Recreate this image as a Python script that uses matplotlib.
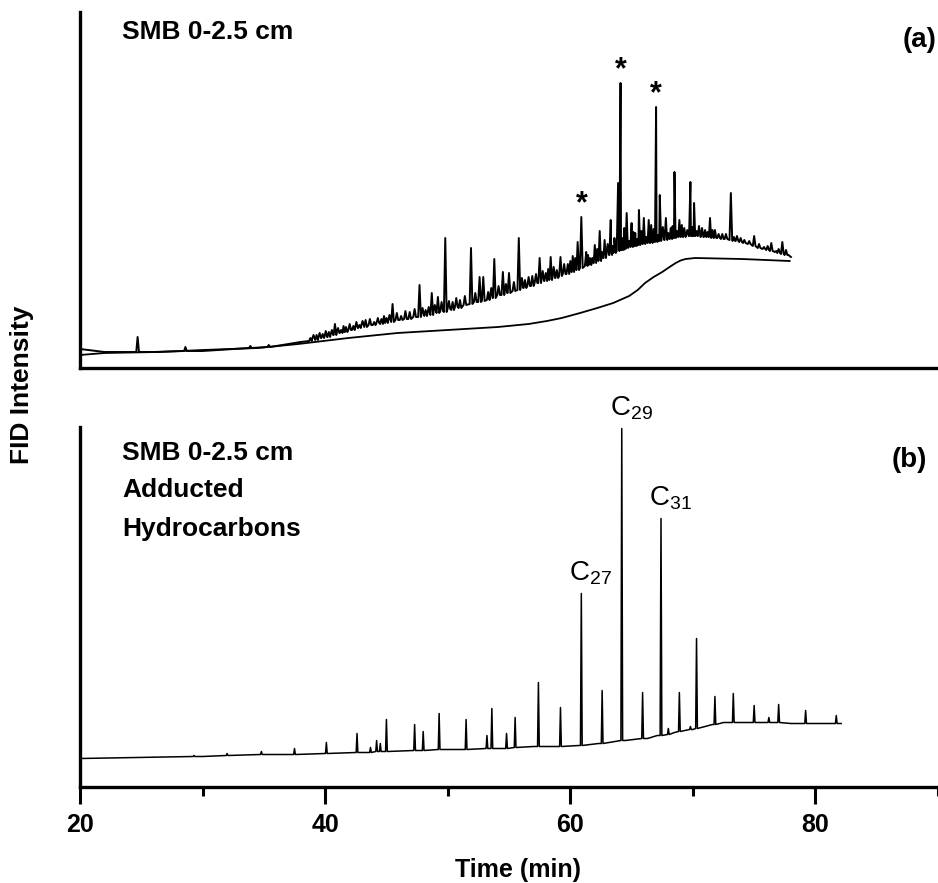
import numpy as np
import matplotlib
matplotlib.use("Agg")
import matplotlib.pyplot as plt

plt.rcParams['font.family'] = ['Liberation Sans', 'DejaVu Sans']
plt.rcParams['mathtext.fontset'] = 'custom'
plt.rcParams['mathtext.rm'] = 'Liberation Sans'

# ---- panel (a): total extract, baseline knots (time, height) ----
a_knot_t = [20, 22, 26, 30, 34, 36, 38, 40, 42.7, 45.4, 48, 50.7, 54, 57,
            59.3, 61, 63.5, 65.4, 67.5, 69.4, 70.2, 72.1, 73, 74.9, 76.3, 77.8, 78.0]
a_knot_h = [19, 16, 16, 17, 20, 22, 26, 31, 41, 47, 53, 61, 72, 84,
            93, 101, 116, 123, 128, 132, 132, 130, 128, 123, 118, 113, 111]

# main peaks: time, foot height, apex height
a_pk_t = [24.7, 28.6, 33.9, 35.4, 38.8, 39.3, 39.8, 40.3, 40.8, 41.3, 41.7, 42.3,
          42.8, 43.3, 44.0, 44.6, 45.0, 45.5, 46.2, 46.9, 47.7, 48.2, 48.7, 49.2,
          49.8, 50.4, 51.0, 51.9, 52.6, 52.9, 53.3, 53.8, 54.5, 55.0, 55.8, 56.3,
          56.9, 57.5, 58.0, 58.4, 58.9, 59.2, 59.8, 60.2, 60.6, 60.9, 61.3, 61.6,
          62.0, 62.4, 62.8, 63.3, 63.6, 63.9, 64.1, 64.4, 64.6, 65.0, 65.3, 65.6,
          66.0, 66.4, 66.6, 67.0, 67.3, 67.8, 68.2, 68.5, 68.9, 69.3, 69.8, 70.1,
          70.5, 71.0, 71.4, 71.8, 72.4, 73.1, 73.6, 74.2, 75.0, 75.4, 75.8, 76.4,
          76.8, 77.3, 77.6]
a_pk_base = [16, 17, 20, 21, 27, 28, 30, 31, 33, 35, 36, 38,
             40, 41, 43, 44, 45, 46, 48, 49, 51, 52, 53, 55,
             56, 58, 60, 64, 66, 67, 68, 70, 73, 75, 78, 80,
             82, 85, 87, 88, 90, 92, 94, 96, 98, 100, 102, 103,
             105, 107, 110, 113, 115, 117, 118, 119, 120, 121, 122, 123,
             124, 125, 125, 126, 127, 128, 129, 130, 131, 131, 132, 132,
             132, 131, 131, 130, 129, 128, 127, 125, 122, 120, 119, 117,
             116, 114, 113]
a_pk_top = [31, 21, 22, 23, 30, 33, 34, 36, 44, 38, 41, 42,
            43, 48, 46, 49, 50, 64, 52, 56, 83, 58, 75, 71,
            130, 66, 68, 120, 91, 91, 76, 109, 96, 95, 130, 88,
            92, 110, 95, 111, 98, 111, 104, 112, 126, 151, 116, 110,
            123, 137, 128, 148, 130, 185, 285, 140, 155, 145, 135, 158,
            150, 148, 143, 261, 173, 150, 140, 196, 148, 140, 186, 165,
            142, 138, 150, 138, 134, 175, 132, 128, 132, 124, 121, 125,
            117, 126, 118]

# minor "grass" peaks between the main ones
a_sm_t = [39.05, 39.55, 40.05, 40.55, 41.05, 41.5, 42.0, 42.55, 43.05, 43.65,
          44.3, 44.8, 45.25, 45.85, 46.55, 47.3, 47.95, 48.45, 48.95, 49.5,
          50.1, 50.7, 51.4, 52.25, 53.55, 54.15, 54.75, 55.4, 56.05, 56.6,
          57.2, 57.75, 58.2, 58.65, 59.5, 60.0, 60.4, 61.45, 61.8, 62.2,
          62.6, 63.05, 63.45, 64.25, 64.8, 65.15, 65.45, 65.8, 66.2, 66.8,
          67.15, 67.55, 68.0, 68.35, 68.7, 69.1, 69.55, 69.95, 70.3, 70.75,
          71.2, 71.6, 72.1, 72.7, 73.35, 73.9, 74.6, 76.1, 77.0]
a_sm_base = [29, 30, 31, 33, 35, 36, 38, 40, 42, 43,
             45, 46, 47, 48, 49, 51, 53, 54, 56, 57,
             59, 61, 63, 66, 70, 73, 75, 77, 80, 82,
             85, 87, 89, 90, 94, 96, 98, 104, 105, 108,
             110, 113, 116, 118, 121, 122, 123, 124, 125, 126,
             127, 128, 129, 130, 131, 131, 132, 132, 132, 131,
             131, 130, 130, 129, 127, 126, 124, 118, 115]
a_sm_top = [33, 35, 37, 38, 40, 42, 44, 46, 47, 49,
            50, 52, 53, 55, 57, 59, 60, 61, 63, 66,
            67, 70, 72, 75, 80, 82, 84, 86, 90, 91,
            94, 97, 99, 101, 104, 107, 110, 113, 110, 119,
            116, 124, 122, 130, 127, 136, 129, 137, 131, 139,
            133, 141, 135, 142, 137, 143, 138, 141, 137, 140,
            136, 138, 134, 134, 131, 130, 127, 122, 119]

# blank run (no peaks)
blank_t = [20, 22, 26.4, 30, 34.5, 37.8, 41.9, 45.9, 50, 54.1, 56.6, 58.1,
           59.3, 60.8, 62.2, 63.5, 64.8, 65.5, 66.1, 66.8, 67.5, 68.1, 68.6,
           69.0, 69.4, 70.2, 74, 77.9]
blank_h = [13, 15, 16, 18, 20, 24, 30, 35, 38, 41, 44, 47,
           50, 55, 60, 65, 72, 78, 85, 91, 96, 101, 105,
           107.5, 109, 110, 109, 107]

star_t = [60.9, 64.1, 67.0]

# ---- panel (b): adducted hydrocarbons ----
b_knot_t = [20, 30, 40, 45, 50, 54, 57, 60.7, 62.3, 64.5, 66.3, 67.1, 68.5,
            70.0, 71.0, 71.6, 72.5, 78, 82.1]
b_knot_h = [28, 30, 33, 35, 37, 38, 40, 41, 43, 46, 48, 51, 54,
            57, 60, 62, 64, 63, 63]

b_pk_t = [29.3, 32.0, 34.8, 37.5, 40.1, 42.6, 43.7, 44.2, 44.5, 45.0, 47.3, 48.0,
          49.3, 51.5, 53.2, 53.6, 54.8, 55.5, 57.4, 59.2, 60.9, 62.6, 64.2, 65.9,
          67.4, 68.0, 68.9, 69.8, 70.3, 71.8, 73.3, 75.0, 76.2, 77.0, 79.2, 81.7]
b_pk_base = [30, 31, 32, 32, 33, 34, 34, 35, 35, 35, 36, 36,
             37, 37, 38, 38, 38, 39, 40, 40, 41, 43, 46, 48,
             51, 52, 55, 57, 58, 62, 64, 64, 64, 64, 63, 63]
b_pk_top = [31, 33, 35, 38, 44, 53, 39, 46, 43, 67, 62, 55,
            73, 67, 51, 78, 53, 69, 104, 79, 193, 96, 358, 94,
            268, 58, 94, 60, 148, 90, 93, 81, 69, 82, 76, 71]

c_names = ['27', '29', '31']
c_t = [60.9, 64.2, 67.4]


def trace(knot_t, knot_h, pk_t, pk_base, pk_top, w):
    kt = np.array(knot_t, float)
    kh = np.array(knot_h, float)
    pt = np.array(pk_t, float)
    keep = np.array([np.all(np.abs(pt - x) > w) for x in kt])
    t = list(kt[keep])
    h = list(kh[keep])
    for x, b, top in zip(pk_t, pk_base, pk_top):
        t += [x - w, x, x + w]
        h += [b, top, b]
    order = np.argsort(t, kind='stable')
    return np.array(t)[order], np.array(h)[order]


fig = plt.figure(figsize=(9.38, 8.83), dpi=100)
W, H = 938, 883
ax1 = fig.add_axes([80 / W, 1 - 368 / H, 1 - 80 / W, (368 - 12) / H])
ax2 = fig.add_axes([80 / W, 1 - 786.5 / H, 1 - 80 / W, (786.5 - 427) / H], sharex=ax1)

for ax in (ax1, ax2):
    ax.spines['top'].set_visible(False)
    ax.spines['right'].set_visible(False)
    ax.spines['left'].set_linewidth(2.4)
    ax.spines['bottom'].set_linewidth(2.4)
    ax.set_yticks([])

ax1.set_xlim(20, 89.6)
ax1.set_ylim(0, 356)
ax2.set_ylim(0, 359.5)

# panel (a)
t, h = trace(a_knot_t, a_knot_h, a_pk_t + a_sm_t, a_pk_base + a_sm_base,
             a_pk_top + a_sm_top, 0.11)
ax1.plot(t, h, color='black', lw=1.4)
ax1.plot(blank_t, blank_h, color='black', lw=1.3)
for st in star_t:
    top = a_pk_top[a_pk_t.index(st)]
    ax1.annotate('*', (st, top), xytext=(0, -2), textcoords='offset pixels',
                 ha='center', va='bottom', fontsize=22, fontweight='bold')
ax1.tick_params(axis='x', which='both', bottom=False, labelbottom=False)
ax1.text(0.049, 0.924, 'SMB 0-2.5 cm', transform=ax1.transAxes,
         fontsize=19, fontweight='bold', va='baseline', ha='left')
ax1.text(0.998, 0.902, '(a)', transform=ax1.transAxes,
         fontsize=20, fontweight='bold', va='baseline', ha='right')

# panel (b)
t, h = trace(b_knot_t, b_knot_h, b_pk_t, b_pk_base, b_pk_top, 0.07)
ax2.plot(t, h, color='black', lw=1.1)
for name, ct in zip(c_names, c_t):
    top = b_pk_top[b_pk_t.index(ct)]
    ax2.annotate(r'$\mathregular{C_{%s}}$' % name, (ct, top), xytext=(-12, 13),
                 textcoords='offset pixels', ha='left', va='baseline',
                 fontsize=20, annotation_clip=False)

b_lines = ['SMB 0-2.5 cm', 'Adducted', 'Hydrocarbons']
b_line_y = [0.908, 0.805, 0.697]
for txt, yy in zip(b_lines, b_line_y):
    ax2.text(0.049, yy, txt, transform=ax2.transAxes,
             fontsize=19, fontweight='bold', va='baseline', ha='left')
ax2.text(0.987, 0.889, '(b)', transform=ax2.transAxes,
         fontsize=20, fontweight='bold', va='baseline', ha='right')

ax2.set_xticks([20, 40, 60, 80])
ax2.set_xticks([30, 50, 70, 90], minor=True)
ax2.tick_params(axis='x', which='major', direction='out', length=12, width=2.2,
                pad=7, labelsize=18)
ax2.tick_params(axis='x', which='minor', direction='out', length=6.5, width=2.2)
for lab in ax2.get_xticklabels():
    lab.set_fontweight('bold')
ax2.set_xlabel('Time (min)', fontsize=18, fontweight='bold')
ax2.xaxis.set_label_coords(0.51, -0.2)

fig.text(22 / W, 1 - 385 / H, 'FID Intensity', rotation=90, fontsize=19,
         fontweight='bold', ha='center', va='center')

fig.savefig('out.png', dpi=100)
